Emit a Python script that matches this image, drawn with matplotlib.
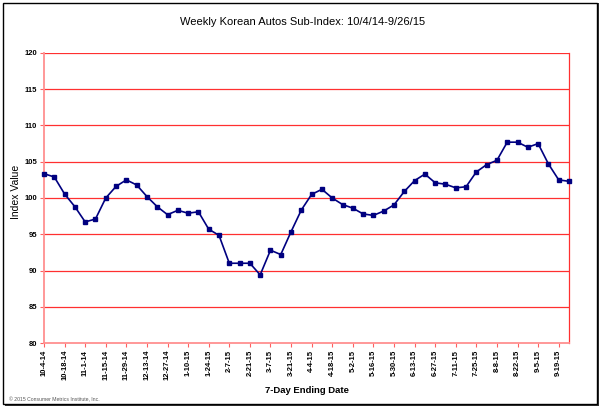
import matplotlib
matplotlib.use("Agg")
import matplotlib.pyplot as plt
from matplotlib.patches import Rectangle

plt.rcParams['font.family'] = ['Liberation Sans', 'DejaVu Sans']

values = [103.35, 102.9, 100.55, 98.8, 96.7, 97.1, 100.0, 101.6, 102.5, 101.8,
          100.2, 98.8, 97.7, 98.3, 97.9, 98.1, 95.7, 94.85, 91.0, 91.0,
          91.0, 89.4, 92.8, 92.2, 95.35, 98.35, 100.5, 101.2, 100.0, 99.1,
          98.6, 97.8, 97.6, 98.2, 99.05, 100.9, 102.4, 103.3, 102.1, 101.9,
          101.4, 101.55, 103.6, 104.6, 105.2, 107.7, 107.7, 107.0, 107.5, 104.7,
          102.5, 102.3]
tick_labels = ['10-4-14', '10-18-14', '11-1-14', '11-15-14', '11-29-14', '12-13-14',
               '12-27-14', '1-10-15', '1-24-15', '2-7-15', '2-21-15', '3-7-15',
               '3-21-15', '4-4-15', '4-18-15', '5-2-15', '5-16-15', '5-30-15',
               '6-13-15', '6-27-15', '7-11-15', '7-25-15', '8-8-15', '8-22-15',
               '9-5-15', '9-19-15']
y_ticks = [80, 85, 90, 95, 100, 105, 110, 115, 120]

fig = plt.figure(figsize=(6.02, 4.11), dpi=100)
ax = fig.add_axes([44/602, 1-343/411, (569-44)/602, (343-53)/411])
ax.set_zorder(2)

x = list(range(len(values)))
ax.plot(x, values, color='#000080', linewidth=1.2, marker='s', markersize=3.2,
        markerfacecolor='#000080', markeredgecolor='#000080', zorder=3, clip_on=False)

ax.set_xlim(0, len(values) - 1)
ax.set_ylim(80, 120)
ax.set_yticks(y_ticks)
ax.set_yticklabels([str(v) for v in y_ticks], fontsize=5.5, fontweight='bold')
ax.set_xticks(list(range(0, len(values), 2)))
ax.set_xticklabels(tick_labels, rotation=90, fontsize=5.5, fontweight='bold')
ax.tick_params(axis='both', length=3, width=0.8, color='#FF6060', pad=2)

for v in y_ticks[1:]:
    ax.axhline(v, color='#FF3030', linewidth=0.9, zorder=1)
for side in ['left', 'bottom']:
    ax.spines[side].set_color('#FF9090')
    ax.spines[side].set_linewidth(1.3)
ax.spines['right'].set_color('#FF3030')
ax.spines['right'].set_linewidth(0.9)
ax.spines['top'].set_visible(False)

ax.set_ylabel('Index Value', fontsize=7.5)
ax.yaxis.set_label_coords(-0.043, 0.52)
ax.set_xlabel('7-Day Ending Date', fontsize=6.8, fontweight='bold')
ax.xaxis.set_label_coords(0.5, -0.148)

fig.text(303/602, 1-22/411, 'Weekly Korean Autos Sub-Index: 10/4/14-9/26/15',
         ha='center', va='center', fontsize=8.0, zorder=3)
fig.text(9/602, 1-400/411, '\u00a9 2015 Consumer Metrics Institute, Inc.',
         ha='left', va='center', fontsize=3.7, color='#555555', zorder=3)

# outer frame with shadow
fig.patches.append(Rectangle((5/602, 5/411), 594/602, 403/411, transform=fig.transFigure,
                             facecolor='#333333', edgecolor='none', zorder=-2))
fig.patches.append(Rectangle((3/602, 7/411), 594/602, 401/411, transform=fig.transFigure,
                             facecolor='white', edgecolor='black', linewidth=1.0, zorder=-1))

fig.savefig('out.png', dpi=100)
